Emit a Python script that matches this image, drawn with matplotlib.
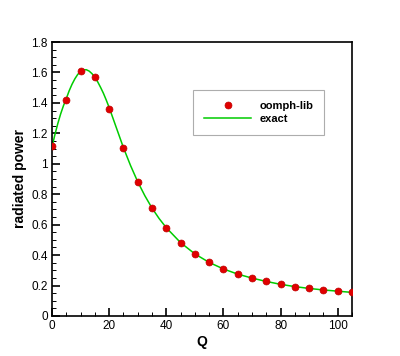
"""
Radiated power against Q: oomph-lib points and exact curve
"""

import matplotlib
matplotlib.use('Agg')
from matplotlib import pyplot as plt
from matplotlib.ticker import MultipleLocator

plt.rcParams['font.family'] = ['Liberation Sans', 'DejaVu Sans']

# computed values (oomph-lib)
q_num = [0, 5, 10, 15, 20, 25, 30, 35, 40, 45, 50, 55, 60, 65, 70, 75, 80, 85, 90, 95, 100, 105]
power_num = [1.117, 1.421, 1.607, 1.568, 1.358, 1.106, 0.882, 0.707, 0.580, 0.482, 0.409,
             0.353, 0.309, 0.276, 0.250, 0.228, 0.208, 0.193, 0.182, 0.173, 0.164, 0.156]

# exact curve
q_exact = [0, 1, 2, 3, 4, 5, 6, 7, 8, 9, 10, 11, 12, 13, 14, 15, 16, 17, 18, 19, 20,
           22.5, 25, 27.5, 30, 32.5, 35, 37.5, 40, 45, 50, 55, 60, 65, 70, 75,
           80, 85, 90, 95, 100, 105]
power_exact = [1.110, 1.190, 1.262, 1.326, 1.381, 1.428, 1.479, 1.522, 1.558, 1.587, 1.606,
               1.617, 1.618, 1.609, 1.592, 1.568, 1.538, 1.502, 1.463, 1.418, 1.370,
               1.238, 1.106, 0.988, 0.882, 0.790, 0.709, 0.640, 0.580, 0.482, 0.408,
               0.352, 0.309, 0.275, 0.249, 0.227, 0.208, 0.193, 0.181, 0.171, 0.163, 0.155]

fig = plt.figure(figsize=(4.0, 3.56), dpi=100)
ax = fig.add_axes([0.13, 0.1124, 0.75, 0.7696])

ax.plot(q_num, power_num, linestyle='None', marker='o', markersize=5.0,
        markerfacecolor='#e00000', markeredgecolor='#c00000', markeredgewidth=0.5,
        label='oomph-lib', zorder=3)
ax.plot(q_exact, power_exact, color='#00cc00', linewidth=1.1, label='exact', zorder=2)

ax.set_xlim(0, 105)
ax.set_ylim(0, 1.8)
ax.xaxis.set_major_locator(MultipleLocator(20))
ax.xaxis.set_minor_locator(MultipleLocator(5))
ax.yaxis.set_major_locator(MultipleLocator(0.2))
ax.yaxis.set_minor_locator(MultipleLocator(0.05))
ax.yaxis.set_major_formatter(matplotlib.ticker.FuncFormatter(lambda v, p: f'{v:g}'))
ax.tick_params(which='major', direction='in', length=6, width=1.2, labelsize=8.5, pad=3)
ax.tick_params(which='minor', direction='in', length=3, width=0.7)
for s in ax.spines.values():
    s.set_linewidth(1.2)

ax.set_xlabel('Q', fontsize=10, fontweight='bold', labelpad=2)
ax.set_ylabel('radiated power', fontsize=10, fontweight='bold', labelpad=3)

leg = ax.legend(loc='center', bbox_to_anchor=(0.688, 0.744), fancybox=False,
                frameon=True, edgecolor='#999999', prop={'weight': 'bold', 'size': 8},
                handlelength=4.3, handletextpad=0.7, borderpad=1.0, labelspacing=0.25)
leg.get_frame().set_linewidth(0.8)

fig.savefig('out.png', dpi=100)
